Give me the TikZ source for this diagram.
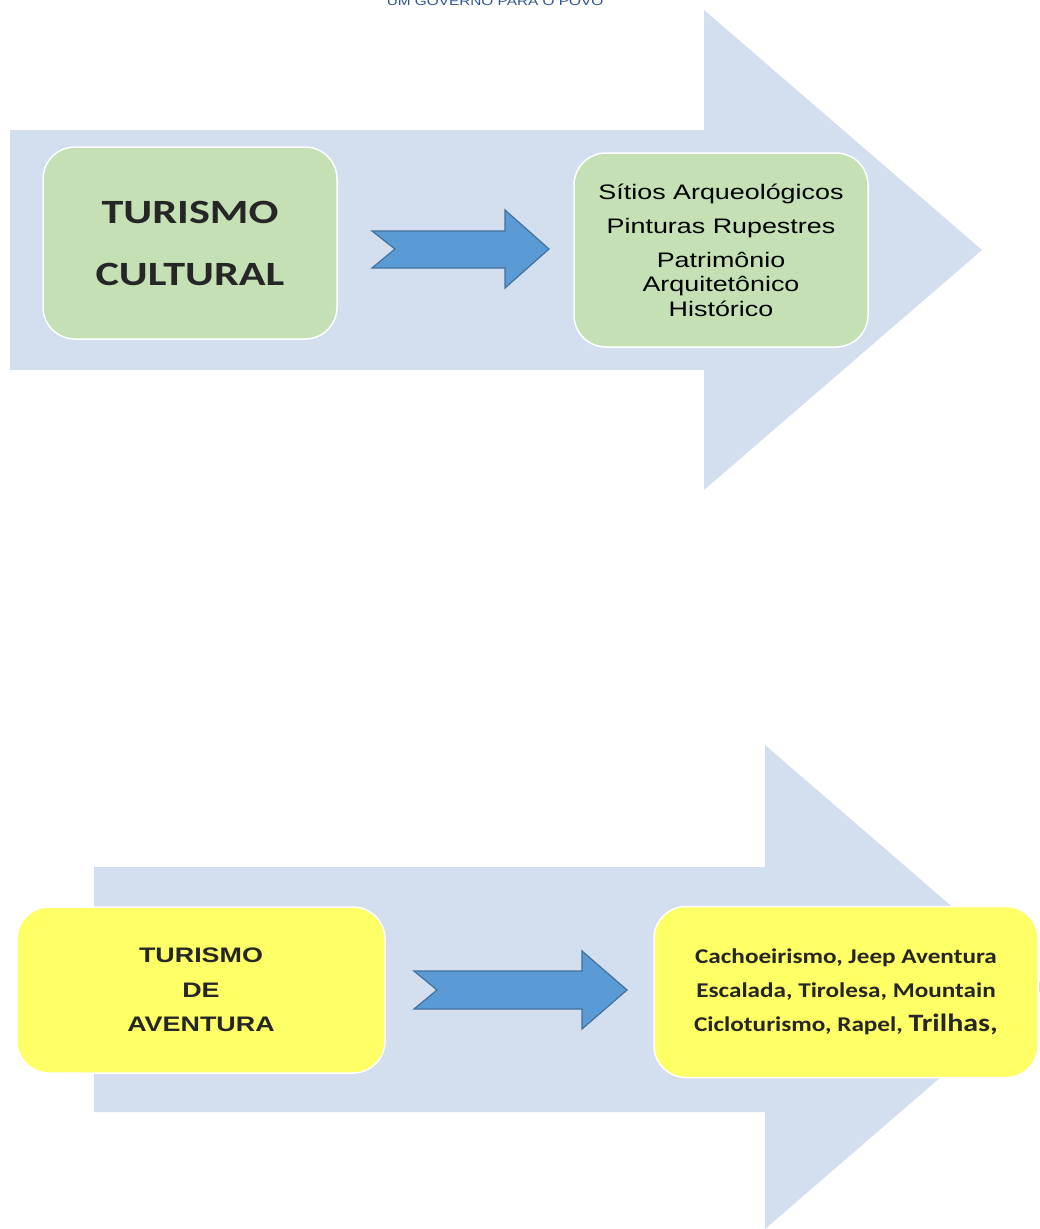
\documentclass[tikz,border=0pt]{standalone}
\usepackage{fontspec}
\usepackage{tikz}
\usetikzlibrary{arrows,positioning}
\newfontfamily\arialfont[FakeStretch=1.28]{Liberation Sans}
\newfontfamily\calibrifont[FakeStretch=1.3]{Carlito}
\newfontfamily\calibrinarrow[FakeStretch=1.2]{Carlito}
\definecolor{bgarrow}{HTML}{D3DEEF}
\definecolor{blockblue}{HTML}{5B9BD5}
\definecolor{blockline}{HTML}{41719C}
\definecolor{boxgreen}{HTML}{C5E0B4}
\definecolor{boxyellow}{HTML}{FFFF66}
\definecolor{headblue}{HTML}{2F5496}
\definecolor{darktext}{HTML}{262626}

\begin{document}
\begin{tikzpicture}[x=1pt,y=-1pt,semithick] \tikzstyle{box}=[rectangle,rounded corners=32pt,draw=white,line width=1.5pt,align=center,inner sep=0pt] \tikzstyle{bigarrow}=[fill=bgarrow] \tikzstyle{smallarrow}=[fill=blockblue,draw=blockline,line width=1.2pt,line join=miter]

  \useasboundingbox (0,0) rectangle (1039,1229);

  % cabecalho cortado
  \node[anchor=base,text=headblue,font=\arialfont\fontsize{12}{14}\selectfont] (h) at (495,5) {UM GOVERNO PARA O POVO};

  % setas grandes de fundo
  \fill[bigarrow] (10,130) -- (704,130) -- (704,10) -- (982,250) -- (704,490) -- (704,370) -- (10,370) -- cycle;
  \fill[bigarrow] (94,867) -- (765,867) -- (765,745) -- (1045,987) -- (765,1229) -- (765,1112) -- (94,1112) -- cycle;

  \node[box,fill=boxgreen,minimum width=294pt,minimum height=192pt,text=darktext,font=\calibrifont\bfseries\fontsize{34}{62}\selectfont] (0) at (190,243) {TURISMO\\CULTURAL};
  \node[box,fill=boxgreen,minimum width=294pt,minimum height=194pt,font=\arialfont\fontsize{21}{24.5}\selectfont] (1) at (721,250) {S\'itios Arqueol\'ogicos\\[9.5pt]Pinturas Rupestres\\[9.5pt]Patrim\^onio\\Arquitet\^onico\\Hist\'orico};

  \node[box,fill=boxyellow,minimum width=368pt,minimum height=166pt,text=darktext,font=\arialfont\bfseries\fontsize{21}{34.5}\selectfont] (2) at (201,990) {TURISMO\\DE\\AVENTURA};
  \node[box,fill=boxyellow,minimum width=384pt,minimum height=171pt,text=darktext,font=\calibrinarrow\bfseries\fontsize{21}{34}\selectfont] (3) at (846,992) {Cachoeirismo, Jeep Aventura\\Escalada, Tirolesa, Mountain\\Cicloturismo, Rapel, {\fontsize{25}{34}\selectfont Trilhas,}};

  % setas azuis entre as caixas
  \filldraw[smallarrow] (372,231) -- (505,231) -- (505,210) -- (549,249) -- (505,288) -- (505,268) -- (372,268) -- (395,249) -- cycle;
  \filldraw[smallarrow] (414,971) -- (582,971) -- (582,951) -- (627,990) -- (582,1029) -- (582,1009) -- (414,1009) -- (437,990) -- cycle;
\end{tikzpicture}
\end{document}
